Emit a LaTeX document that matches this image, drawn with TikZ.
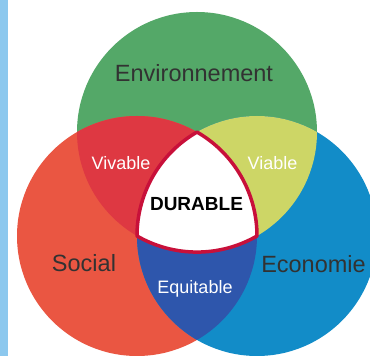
\documentclass[tikz,border=0pt]{standalone}
\usepackage{fontspec}
\setmainfont{Liberation Sans}
\definecolor{stripblue}{RGB}{140,200,238}
\definecolor{envgreen}{RGB}{84,168,104}
\definecolor{socred}{RGB}{234,86,66}
\definecolor{ecoblue}{RGB}{18,140,200}
\definecolor{vivred}{RGB}{222,56,66}
\definecolor{viayellow}{RGB}{205,214,102}
\definecolor{equblue}{RGB}{46,86,172}
\definecolor{durborder}{RGB}{200,16,58}
\definecolor{labelgrey}{RGB}{50,50,50}
\tikzset{
  mainlabel/.style={anchor=base,text=labelgrey,font=\fontsize{23.5}{26}\selectfont,inner sep=0pt},
  sublabel/.style={anchor=base,text=white,font=\fontsize{18}{20}\selectfont,inner sep=0pt},
  durlabel/.style={anchor=base,text=black,font=\fontsize{19}{21}\selectfont\bfseries,inner sep=0pt},
  durshape/.style={fill=white,draw=durborder,line width=3.5pt,line join=round}
}
\begin{document}
\begin{tikzpicture}[x=1pt,y=1pt]
\useasboundingbox (0,0) rectangle (370,356);
\fill[white] (0,0) rectangle (370,356);
\fill[stripblue] (0,0) rectangle (8,356);
\coordinate (G) at (197,224);
\coordinate (R) at (137,120);
\coordinate (B) at (257,120);
% circles
\fill[envgreen] (G) circle (120pt);
\fill[socred] (R) circle (120pt);
\fill[ecoblue] (B) circle (120pt);
% pairwise overlaps
\begin{scope}
  \clip (G) circle (120pt);
  \fill[vivred] (R) circle (120pt);
\end{scope}
\begin{scope}
  \clip (G) circle (120pt);
  \fill[viayellow] (B) circle (120pt);
\end{scope}
\begin{scope}
  \clip (R) circle (120pt);
  \fill[equblue] (B) circle (120pt);
\end{scope}
% triple overlap (Reuleaux triangle)
\path[durshape] (R) arc[start angle=240,end angle=300,radius=120pt]
  arc[start angle=0,end angle=60,radius=120pt]
  arc[start angle=120,end angle=180,radius=120pt] -- cycle;
% labels
\node[mainlabel] (env) at (194,274) {Environnement};
\node[mainlabel] (soc) at (84,84) {Social};
\node[mainlabel] (eco) at (313.5,83) {Economie};
\node[sublabel] (viv) at (121,186) {Vivable};
\node[sublabel] (via) at (272.5,186) {Viable};
\node[sublabel] (equ) at (195,62) {Equitable};
\node[durlabel] (dur) at (196.5,145) {DURABLE};
\end{tikzpicture}
\end{document}
